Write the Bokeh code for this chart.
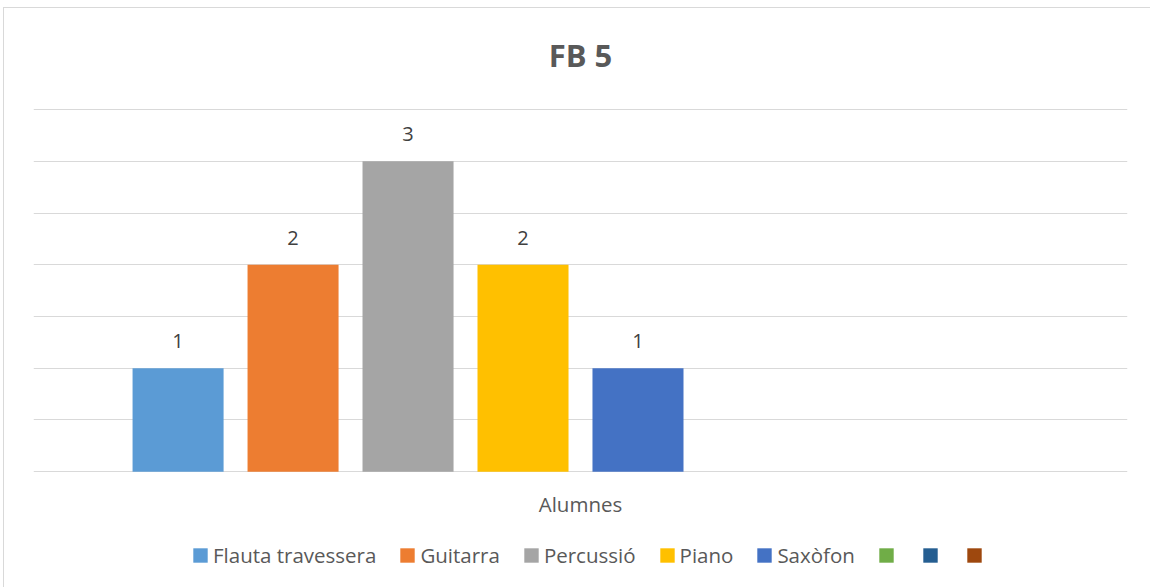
from bokeh.plotting import figure
from bokeh.models import FactorRange, Range1d, Legend, LegendItem, ColumnDataSource, FixedTicker
from bokeh.transform import dodge
from bokeh.core.properties import value
from bokeh.embed import file_html
from bokeh.resources import INLINE

# ---- data ----
title_text = "FB 5"
category = "Alumnes"
series = ["Flauta travessera", "Guitarra", "Percussió", "Piano", "Saxòfon", "", "", ""]
values = [1, 2, 3, 2, 1, None, None, None]
colors = ["#5B9BD5", "#ED7D31", "#A5A5A5", "#FFC000", "#4472C4", "#70AD47", "#255E91", "#9E480E"]
y_ticks = [0, 0.5, 1, 1.5, 2, 2.5, 3, 3.5]

FONT = "Open Sans"
n = len(series)
step = 0.1051
bar_w = 0.0832

# the frame reaches down to the bottom of the chart so that the category
# label and the legend can sit inside it under the baseline
p = figure(
    width=1150, height=587,
    x_range=FactorRange(factors=[category], range_padding=0),
    y_range=Range1d(-1.1, 3.52),
    output_backend="svg", toolbar_location=None, tools="",
    x_axis_location=None, y_axis_location=None,
    min_border_left=33, min_border_right=23, min_border_top=104, min_border_bottom=2,
)
p.outline_line_color = None
p.background_fill_color = "white"
p.border_fill_color = None
p.styles = {
    "background": "linear-gradient(#D9D9D9,#D9D9D9) 3px 7px / 1px 100% no-repeat, "
                  "linear-gradient(#D9D9D9,#D9D9D9) 3px 7px / 100% 1px no-repeat, white",
}

p.title.text = title_text
p.title.align = "center"
p.title.text_font = FONT
p.title.text_font_size = "31px"
p.title.text_font_style = "bold"
p.title.text_color = "#595959"
p.title.standoff = 63

p.ygrid.ticker = FixedTicker(ticks=y_ticks)
p.ygrid.grid_line_color = "#D9D9D9"
p.ygrid.grid_line_width = 1
p.xgrid.grid_line_color = None

items = []
for i in range(n):
    v = values[i]
    src = ColumnDataSource(dict(
        x=[category],
        top=[0.0 if v is None else v],
        lab=["" if v is None else str(v)],
    ))
    off = (i - (n - 1) / 2) * step
    r = p.vbar(x=dodge("x", off, range=p.x_range), top="top", bottom=0, width=bar_w,
               source=src, fill_color=colors[i], line_color=None)
    if v is not None:
        p.text(x=dodge("x", off, range=p.x_range), y="top", text="lab", source=src,
               text_align="center", text_baseline="bottom", y_offset=-20,
               text_font=value(FONT), text_font_size="20px", text_color="#404040")
    items.append(LegendItem(label=value(series[i]), renderers=[r]))

# category label under the baseline
cat_src = ColumnDataSource(dict(x=[category], y=[0], t=[category]))
p.text(x="x", y="y", text="t", source=cat_src, text_align="center",
       text_baseline="middle", y_offset=32, text_font=value(FONT),
       text_font_size="20.5px", text_color="#595959")

legend = Legend(items=items, orientation="horizontal", location=(158, 16),
                glyph_width=18, glyph_height=18, label_standoff=4, spacing=22,
                label_width=0, label_height=14,
                padding=0, margin=0, border_line_color=None, background_fill_alpha=0,
                label_text_font=FONT, label_text_font_size="20.5px", label_text_color="#595959")
p.add_layout(legend, "center")

open("out.html", "w").write(file_html(p, INLINE))
